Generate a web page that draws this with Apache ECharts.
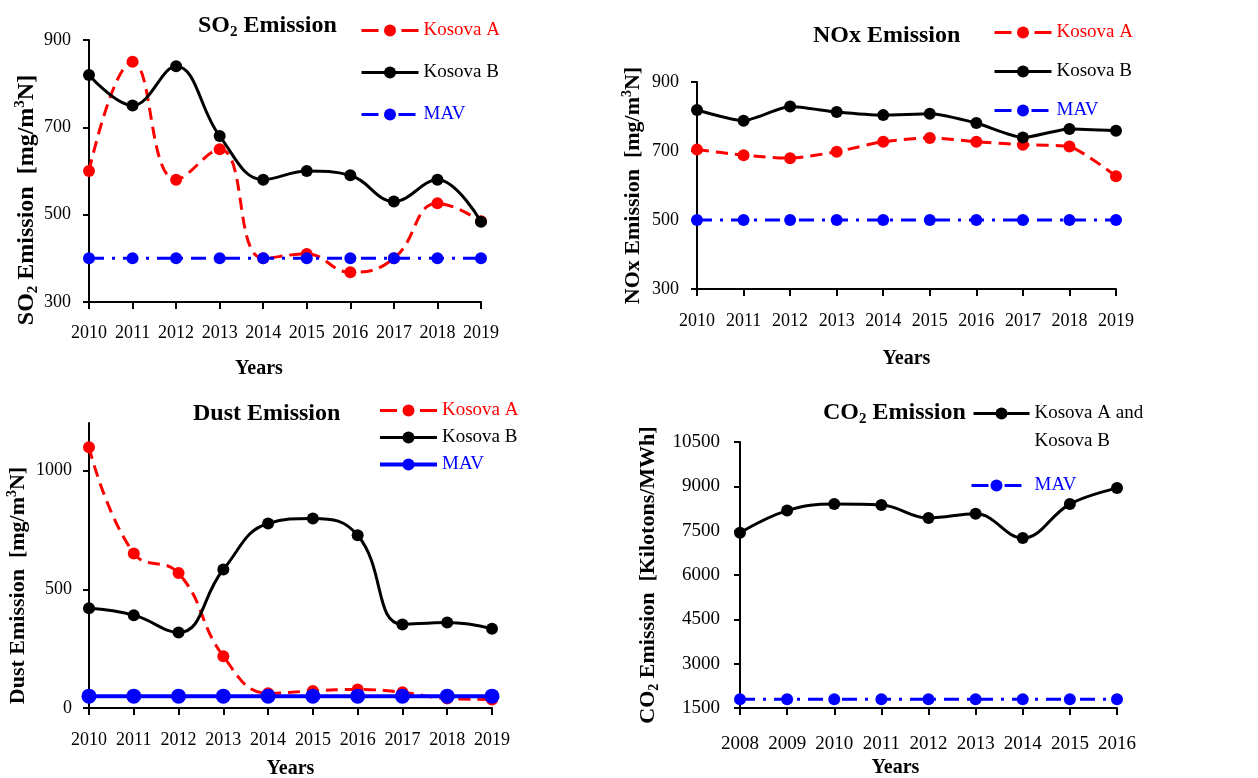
<!DOCTYPE html>
<html>
<head>
<meta charset="utf-8">
<script src="https://cdn.jsdelivr.net/npm/echarts@6/dist/echarts.min.js"></script>
<style>
html, body { margin: 0; padding: 0; background: #fff; }
.panel { position: absolute; }
</style>
</head>
<body>
<div id="so2" class="panel" style="left:0;top:0;width:620px;height:380px"></div>
<div id="nox" class="panel" style="left:620px;top:0;width:638px;height:380px"></div>
<div id="dust" class="panel" style="left:0;top:380px;width:620px;height:398px"></div>
<div id="co2" class="panel" style="left:620px;top:380px;width:638px;height:398px"></div>
<script>
// data
const years = ['2010', '2011', '2012', '2013', '2014', '2015', '2016', '2017', '2018', '2019']
const co2Years = ['2008', '2009', '2010', '2011', '2012', '2013', '2014', '2015', '2016']

const so2KosovaA = [600, 850, 580, 650, 400, 410, 368, 400, 526, 485]
const so2KosovaB = [820, 750, 840, 680, 580, 600, 590, 530, 580, 484]
const so2Mav = [400, 400, 400, 400, 400, 400, 400, 400, 400, 400]

const noxKosovaA = [704, 688, 679, 698, 727, 738, 727, 718, 713, 627]
const noxKosovaB = [819, 788, 829, 813, 804, 808, 781, 739, 764, 759]
const noxMav = [500, 500, 500, 500, 500, 500, 500, 500, 500, 500]

const dustKosovaA = [1098, 651, 568, 218, 62, 72, 78, 66, 40, 36]
const dustKosovaB = [420, 391, 318, 583, 777, 798, 727, 352, 360, 334]
const dustMav = [50, 50, 50, 50, 50, 50, 50, 50, 50, 50]
const dustTicks = [0, 500, 1000]

const co2Both = [7430, 8180, 8400, 8370, 7930, 8070, 7250, 8400, 8940]
const co2Mav = [1800, 1800, 1800, 1800, 1800, 1800, 1800, 1800, 1800]

const FONT = '"Liberation Serif", "Times New Roman", serif'
const RED = '#ff0000'
const BLUE = '#0000ff'
const BLACK = '#000000'
const RED_DASH = [12, 7]
const MAV_DASH = [15, 8, 3, 8]

// rich styles for bold text with sub/superscripts
function richBold(size) {
  const small = Math.round(size * 0.62)
  return {
    n: { fontFamily: FONT, fontSize: size, fontWeight: 'bold', color: BLACK, lineHeight: size + 4 },
    sub: { fontFamily: FONT, fontSize: small, fontWeight: 'bold', color: BLACK, lineHeight: small, verticalAlign: 'bottom' },
    sup: { fontFamily: FONT, fontSize: small, fontWeight: 'bold', color: BLACK, lineHeight: small, verticalAlign: 'top' }
  }
}

function xAxis(cats, o) {
  return {
    type: 'category',
    data: cats,
    boundaryGap: false,
    name: 'Years',
    nameLocation: 'middle',
    nameGap: o.nameGap,
    nameMoveOverlap: false,
    nameTextStyle: { fontFamily: FONT, fontSize: 20, fontWeight: 'bold', color: BLACK, padding: o.namePad || 0 },
    axisLine: { lineStyle: { color: BLACK, width: 2 } },
    axisTick: { show: true, inside: false, length: 7, interval: 0, lineStyle: { color: BLACK, width: 2 } },
    axisLabel: { fontFamily: FONT, fontSize: o.labelSize || 18, color: BLACK, margin: o.labelMargin, interval: 0 },
    splitLine: { show: false }
  }
}

function yAxis(o) {
  const ax = {
    type: 'value',
    min: o.min,
    max: o.max,
    name: o.name,
    nameLocation: 'middle',
    nameGap: o.nameGap,
    nameMoveOverlap: false,
    nameTextStyle: { rich: richBold(o.nameSize), padding: o.namePad || 0 },
    axisLine: { show: true, lineStyle: { color: BLACK, width: 2 } },
    axisTick: { show: true, inside: false, length: 6, lineStyle: { color: BLACK, width: 2 } },
    axisLabel: { fontFamily: FONT, fontSize: o.labelSize || 18, color: BLACK, margin: o.labelMargin,
      formatter: v => String(v) },
    splitLine: { show: false }
  }
  if (o.interval) ax.interval = o.interval
  if (o.ticks) {
    ax.axisTick.customValues = o.ticks
    ax.axisLabel.customValues = o.ticks
  }
  return ax
}

function line(name, data, color, dash, o) {
  o = o || {}
  return {
    name: name,
    type: 'line',
    data: data,
    smooth: o.smooth === undefined ? 0.4 : o.smooth,
    symbol: 'circle',
    symbolSize: o.size || 12,
    showSymbol: true,
    lineStyle: { color: color, width: o.width || 3, type: dash || 'solid' },
    itemStyle: { color: color },
    emphasis: { disabled: true },
    z: o.z || 2
  }
}

function legend(o) {
  return {
    orient: 'vertical',
    left: o.left,
    top: o.top,
    padding: 0,
    itemWidth: o.itemWidth || 57,
    itemHeight: 15,
    itemGap: o.gap,
    selectedMode: false,
    textStyle: Object.assign({ fontFamily: FONT, fontSize: 19, color: BLACK }, o.textStyle || {}),
    formatter: o.formatter,
    data: o.data
  }
}

function legendItem(name, color, dash, width) {
  return {
    name: name,
    textStyle: { color: color },
    lineStyle: { width: width || 3, type: dash || 'solid' }
  }
}

const stdLegend = [
  legendItem('Kosova A', RED, [17, 23]),
  legendItem('Kosova B', BLACK),
  legendItem('MAV', BLUE, [17, 20])
]
const dustLegend = [
  legendItem('Kosova A', RED, [17, 23]),
  legendItem('Kosova B', BLACK),
  legendItem('MAV', BLUE, 'solid', 4)
]

const charts = []
function make(id, option) {
  const c = echarts.init(document.getElementById(id))
  c.setOption(option)
  charts.push(c)
}

make('so2', {
  animation: false,
  title: { text: '{n|SO}{sub|2}{n| Emission}', left: 198, top: 12, padding: 0, textStyle: { rich: richBold(24) } },
  legend: legend({ left: 360, top: 21, gap: 23, data: stdLegend }),
  grid: { left: 89, top: 40, width: 392, height: 262, outerBoundsMode: 'none' },
  xAxis: xAxis(years, { nameGap: 57, labelMargin: 22, namePad: [0, 52, 0, 0] }),
  yAxis: yAxis({ min: 300, max: 900, interval: 200, nameGap: 48, nameSize: 24, labelMargin: 18,
    name: '{n|SO}{sub|2}{n| Emission  [mg/m}{sup|3}{n|N]}', namePad: [0, 58, 0, 0] }),
  series: [
    line('Kosova A', so2KosovaA, RED, RED_DASH, { smooth: 0.45 }),
    line('Kosova B', so2KosovaB, BLACK, 'solid', { z: 3 }),
    line('MAV', so2Mav, BLUE, MAV_DASH, { smooth: false, z: 4 })
  ]
})

make('nox', {
  animation: false,
  title: { text: '{n|NOx Emission}', left: 193, top: 22, padding: 0, textStyle: { rich: richBold(24) } },
  legend: legend({ left: 373, top: 23, gap: 20, data: stdLegend }),
  grid: { left: 77, top: 82, width: 419, height: 207, outerBoundsMode: 'none' },
  xAxis: xAxis(years, { nameGap: 60, labelMargin: 23 }),
  yAxis: yAxis({ min: 300, max: 900, interval: 200, nameGap: 51, nameSize: 22, labelMargin: 18,
    name: '{n|NOx Emission  [mg/m}{sup|3}{n|N]}' }),
  series: [
    line('Kosova A', noxKosovaA, RED, RED_DASH, { smooth: 0.2 }),
    line('Kosova B', noxKosovaB, BLACK, 'solid', { smooth: 0.2, z: 3 }),
    line('MAV', noxMav, BLUE, MAV_DASH, { smooth: false, z: 4 })
  ]
})

make('dust', {
  animation: false,
  title: { text: '{n|Dust Emission}', left: 193, top: 20, padding: 0, textStyle: { rich: richBold(24) } },
  legend: legend({ left: 378, top: 21, gap: 8, data: dustLegend }),
  grid: { left: 89, top: 43, width: 403, height: 285, outerBoundsMode: 'none' },
  xAxis: xAxis(years, { nameGap: 51, labelMargin: 23 }),
  yAxis: yAxis({ min: 0, max: 1200, ticks: dustTicks, nameGap: 58, nameSize: 22, labelMargin: 17,
    name: '{n|Dust Emission  [mg/m}{sup|3}{n|N]}', namePad: [0, 40, 0, 0] }),
  series: [
    line('Kosova A', dustKosovaA, RED, RED_DASH, { smooth: 0.45 }),
    line('Kosova B', dustKosovaB, BLACK, 'solid', { smooth: 0.45, z: 3 }),
    line('MAV', dustMav, BLUE, 'solid', { smooth: false, size: 15, width: 4, z: 4 })
  ]
})

make('co2', {
  animation: false,
  title: { text: '{n|CO}{sub|2}{n| Emission}', left: 203, top: 19, padding: 0, textStyle: { rich: richBold(24) } },
  legend: [
    legend({
      left: 352, top: -4, itemWidth: 56, gap: 0,
      data: [legendItem('Kosova A and Kosova B', BLACK)],
      // blank first line keeps the icon level with the first text line
      formatter: () => '{e| }\n{t|Kosova A and}\n{t|Kosova B}',
      textStyle: { rich: {
        e: { fontFamily: FONT, fontSize: 19, lineHeight: 28 },
        t: { fontFamily: FONT, fontSize: 19, lineHeight: 28, color: BLACK }
      } }
    }),
    legend({
      left: 350, top: 96, itemWidth: 50, gap: 0,
      data: [Object.assign(legendItem('MAV', BLUE, [17, 16]), { textStyle: { color: BLUE, padding: [0, 0, 0, 8] } })]
    })
  ],
  grid: { left: 120, top: 62, width: 377, height: 266, outerBoundsMode: 'none' },
  xAxis: xAxis(co2Years, { nameGap: 50, labelMargin: 27, labelSize: 19, namePad: [0, 66, 0, 0] }),
  yAxis: yAxis({ min: 1500, max: 10500, interval: 1500, nameGap: 79, nameSize: 22, labelMargin: 20, labelSize: 19,
    name: '{n|CO}{sub|2}{n| Emission  [Kilotons/MWh]}' }),
  series: [
    line('Kosova A and Kosova B', co2Both, BLACK, 'solid', { smooth: 0.4, z: 3 }),
    line('MAV', co2Mav, BLUE, MAV_DASH, { smooth: false, z: 4 })
  ]
})

window.addEventListener('resize', () => charts.forEach(c => c.resize()))
</script>
</body>
</html>
